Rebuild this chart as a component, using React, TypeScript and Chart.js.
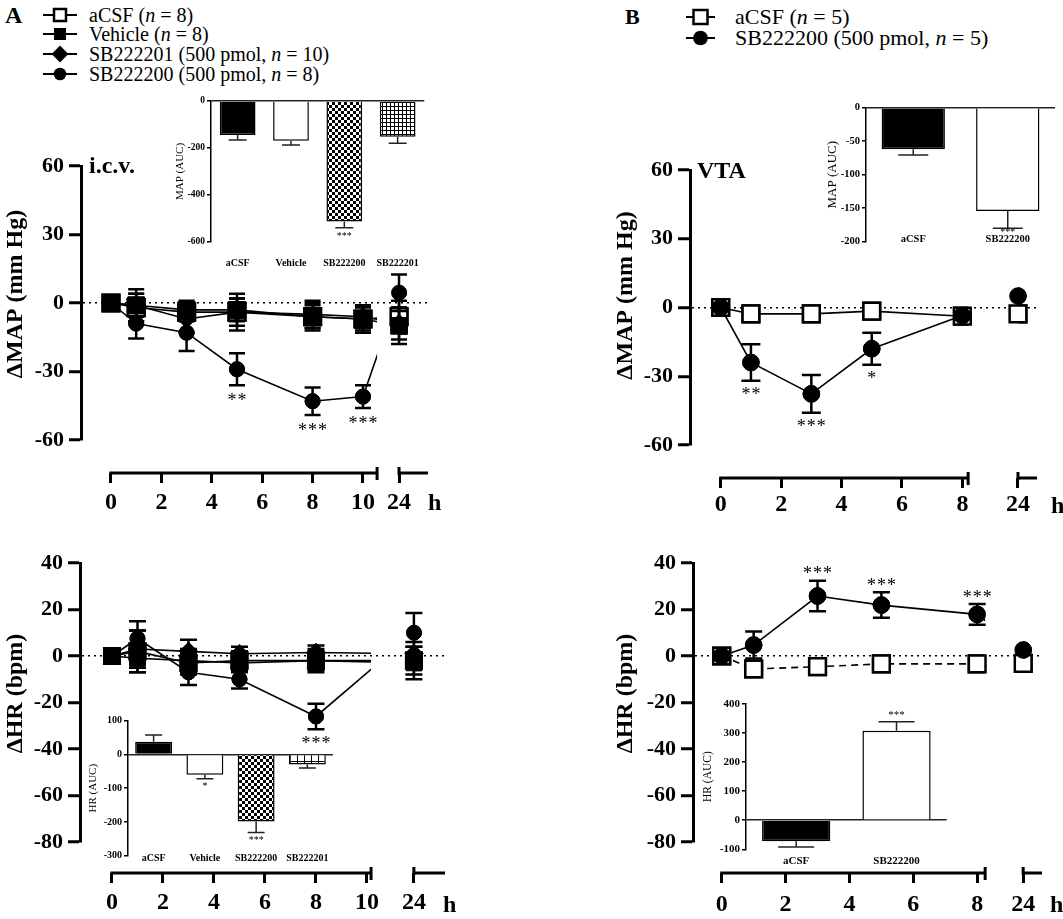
import React, { useEffect, useRef } from "react";
import { Chart, registerables } from "chart.js";

Chart.register(...registerables);

const SERIF = "'Liberation Serif', 'Times New Roman', Times, serif";

// ---------------- Panel A (i.c.v.) : ΔMAP time course ----------------
const A_MAP_HOURS = [0, 1, 3, 5, 8, 10, 24];
const A_MAP_XTICKS = [0, 2, 4, 6, 8, 10, 24];
const A_MAP_ACSF = [0, -2, -4, -4, -6, -7, -6];
const A_MAP_ACSF_SEM = [0, 6, 4, 8, 6, 6, 7];
const A_MAP_VEHICLE = [0, -1, -3, -3, -6, -7, -10];
const A_MAP_VEHICLE_SEM = [0, 7, 4, 5, 5, 5, 8];
const A_MAP_SB201 = [0, -1, -7, -4, -5, -6, -9];
const A_MAP_SB201_SEM = [0, 5, 6, 6, 6, 5, 7];
const A_MAP_SB200 = [0, -9, -13, -29, -43, -41, 4.5];
const A_MAP_SB200_SEM = [0, 6.5, 8, 7, 6, 5, 8];
const A_MAP_SB200_SIG = ["", "", "", "**", "***", "***", ""];

// ---------------- Panel A (i.c.v.) : ΔHR time course ----------------
const A_HR_HOURS = [0, 1, 3, 5, 8, 24];
const A_HR_XTICKS = [0, 2, 4, 6, 8, 10, 24];
const A_HR_ACSF = [0, 2, -3, -2, -2, -2];
const A_HR_ACSF_SEM = [0, 9, 5, 4, 5, 6];
const A_HR_VEHICLE = [0, -1, -2, -3, -2, -3];
const A_HR_VEHICLE_SEM = [0, 6, 5, 4, 4, 7];
const A_HR_SB201 = [0, 3, 2, 1, 1.5, 1];
const A_HR_SB201_SEM = [0, 8, 5, 3, 3, 5];
const A_HR_SB200 = [0, 7.5, -7, -10, -26, 10];
const A_HR_SB200_SEM = [0, 7.5, 5.5, 4, 5.5, 8.5];
const A_HR_SB200_SIG = ["", "", "", "", "***", ""];

// ---------------- Panel B (VTA) ----------------
const B_HOURS = [0, 1, 3, 5, 8, 24];
const B_XTICKS = [0, 2, 4, 6, 8, 24];
const B_MAP_ACSF = [0, -2.8, -2.8, -1.6, -3.8, -2.8];
const B_MAP_ACSF_SEM = [0, 0, 0, 0, 0, 0];
const B_MAP_SB200 = [0, -24, -37.7, -18, -3.5, 5];
const B_MAP_SB200_SEM = [0, 8, 8.2, 7, 0, 0];
const B_MAP_SB200_SIG = ["", "**", "***", "*", "", ""];
const B_HR_ACSF = [0, -5.6, -4.6, -3.4, -3.4, -3.2];
const B_HR_ACSF_SEM = [0, 0, 0, 0, 0, 0];
const B_HR_SB200 = [0, 4.7, 25.8, 21.9, 17.9, 2.6];
const B_HR_SB200_SEM = [0, 5.8, 6.6, 5.5, 4.5, 0];
const B_HR_SB200_SIG = ["", "", "***", "***", "***", ""];

// ---------------- Insets (AUC) ----------------
const A_AUC_GROUPS = ["aCSF", "Vehicle", "SB222200", "SB222201"];
const A_MAP_AUC = [-145, -169, -513, -152];
const A_MAP_AUC_SEM = [21, 18, 26, 28];
const A_MAP_AUC_SIG = ["", "", "***", ""];
const A_HR_AUC = [38, -60, -199, -30];
const A_HR_AUC_SEM = [20, 12, 32, 10];
const A_HR_AUC_SIG = ["", "*", "***", ""];
const B_AUC_GROUPS = ["aCSF", "SB222200"];
const B_MAP_AUC = [-62, -154];
const B_MAP_AUC_SEM = [8.6, 26];
const B_MAP_AUC_SIG = ["", "***"];
const B_HR_AUC = [-72, 308];
const B_HR_AUC_SEM = [20, 31];
const B_HR_AUC_SIG = ["", "***"];

// ---------------- Legends ----------------
const A_LEGEND = [
  { kind: "open", name: "aCSF", dose: "", n: 8 },
  { kind: "filled", name: "Vehicle", dose: "", n: 8 },
  { kind: "diamond", name: "SB222201", dose: "500 pmol, ", n: 10 },
  { kind: "circle", name: "SB222200", dose: "500 pmol, ", n: 8 },
];
const B_LEGEND = [
  { kind: "open", name: "aCSF", dose: "", n: 5 },
  { kind: "circle", name: "SB222200", dose: "500 pmol, ", n: 5 },
];

// ---------------- helpers ----------------
type BrokenAxis = {
  ticks: number[];
  min: number;
  breakAt: number;
  late: number;
  latePos: number;
  end: number;
  axisValue: number;
};

function axisPos(ax: BrokenAxis, h: number) {
  return h >= ax.late ? ax.latePos + (h - ax.late) : h;
}

function makeBrokenAxisPlugin(ax: BrokenAxis) {
  return {
    id: "brokenAxis",
    beforeDatasetDraw(chart: any) {
      const xs = chart.scales.x;
      const { ctx, width, height } = chart;
      const g0 = xs.getPixelForValue(ax.breakAt);
      const g1 = xs.getPixelForValue(ax.latePos);
      ctx.save();
      ctx.beginPath();
      ctx.rect(0, 0, g0, height);
      ctx.rect(g1, 0, width - g1, height);
      ctx.clip();
    },
    afterDatasetDraw(chart: any, args: any) {
      const ctx = chart.ctx;
      ctx.restore();
      // markers are drawn again without the gap clip, so none is cut
      args.meta.data.forEach((pt: any) => pt.draw(ctx, chart.chartArea));
    },
    afterDraw(chart: any) {
      const xs = chart.scales.x;
      const ys = chart.scales.y;
      const ctx = chart.ctx;
      const y = Math.round(ys.getPixelForValue(ax.axisValue));
      const x0 = xs.getPixelForValue(ax.ticks[0]);
      const xb = xs.getPixelForValue(ax.breakAt);
      const xl = xs.getPixelForValue(ax.latePos);
      const xe = xs.getPixelForValue(ax.end);
      ctx.save();
      ctx.strokeStyle = "#000";
      ctx.lineWidth = 3;
      ctx.lineCap = "butt";
      ctx.beginPath();
      ctx.moveTo(x0 - 1.5, y);
      ctx.lineTo(xb, y);
      ctx.moveTo(xb, y - 6);
      ctx.lineTo(xb, y + 7);
      ctx.moveTo(xl, y - 6);
      ctx.lineTo(xl, y + 2);
      ctx.moveTo(xl - 1.5, y);
      ctx.lineTo(xe, y);
      ctx.stroke();
      ctx.restore();
    },
  };
}

function makeErrorBarPlugin(o: any) {
  return {
    id: "errorBars",
    afterDatasetsDraw(chart: any) {
      const ctx = chart.ctx;
      const ys = chart.scales.y;
      chart.data.datasets.forEach((ds: any, di: number) => {
        if (!ds.errors) return;
        const meta = chart.getDatasetMeta(di);
        meta.data.forEach((el: any, i: number) => {
          const raw = ds.data[i];
          const v = typeof raw === "number" ? raw : raw.y;
          const e = ds.errors[i] || 0;
          const x = el.x;
          const outEnd = v + (v >= 0 ? e : -e);
          ctx.save();
          ctx.strokeStyle = o.color;
          ctx.lineWidth = o.lineWidth;
          ctx.lineCap = "butt";
          if (e > 0) {
            ctx.beginPath();
            if (o.outward) {
              const p0 = ys.getPixelForValue(v);
              const p1 = ys.getPixelForValue(outEnd);
              ctx.moveTo(x, p0);
              ctx.lineTo(x, p1);
              ctx.moveTo(x - o.cap, p1);
              ctx.lineTo(x + o.cap, p1);
            } else {
              const pHi = ys.getPixelForValue(v + e);
              const pLo = ys.getPixelForValue(v - e);
              ctx.moveTo(x, pHi);
              ctx.lineTo(x, pLo);
              ctx.moveTo(x - o.cap, pHi);
              ctx.lineTo(x + o.cap, pHi);
              ctx.moveTo(x - o.cap, pLo);
              ctx.lineTo(x + o.cap, pLo);
            }
            ctx.stroke();
          }
          const s = ds.sig && ds.sig[i];
          if (s) {
            const pe = ys.getPixelForValue(outEnd);
            const ty = v >= 0 ? pe - o.sigAbove : pe + o.sigBelow;
            ctx.fillStyle = o.sigColor || "#000";
            ctx.font = o.sigFont;
            ctx.textAlign = "center";
            ctx.textBaseline = "middle";
            try {
              (ctx as any).letterSpacing = o.letterSpacing || "0px";
            } catch (err) {}
            ctx.fillText(s, x + (o.letterSpacingPx || 0) / 2, ty);
          }
          ctx.restore();
        });
      });
    },
  };
}

type Series = {
  label: string;
  values: number[];
  sem: number[];
  sig?: string[];
  style: string;
  radius: number;
  fill: string;
  pointBorder: number;
  dash?: number[];
  order: number;
};

function mainChartConfig(p: any) {
  const ax: BrokenAxis = p.axis;
  return {
    type: "line",
    data: {
      datasets: p.series.map((s: Series) => ({
        label: s.label,
        data: p.hours.map((h: number, i: number) => ({ x: axisPos(ax, h), y: s.values[i] })),
        errors: s.sem,
        sig: s.sig,
        borderColor: "#000",
        borderWidth: 1.6,
        borderDash: s.dash || [],
        backgroundColor: s.fill,
        pointStyle: s.style,
        pointRadius: s.radius,
        pointHoverRadius: s.radius,
        pointBackgroundColor: s.fill,
        pointBorderColor: "#000",
        pointBorderWidth: s.pointBorder,
        fill: false,
        tension: 0,
        order: s.order,
      })),
    },
    options: {
      responsive: false,
      animation: false,
      devicePixelRatio: 1,
      events: [],
      layout: { padding: { left: 0, top: p.padTop, right: p.padRight, bottom: p.padBottom } },
      plugins: { legend: { display: false }, tooltip: { enabled: false } },
      scales: {
        x: {
          type: "linear",
          min: ax.min,
          max: ax.end,
          position: { y: ax.axisValue },
          afterBuildTicks: (sc: any) => {
            sc.ticks = ax.ticks.map((h) => ({ value: axisPos(ax, h) }));
          },
          ticks: {
            autoSkip: false,
            maxRotation: 0,
            padding: p.xLabelPad,
            color: "#000",
            font: { family: SERIF, size: 24, weight: "bold", lineHeight: 1.2 },
            callback: (_v: any, i: number) => String(ax.ticks[i]),
          },
          grid: {
            drawOnChartArea: false,
            drawTicks: true,
            tickLength: 10,
            tickWidth: 3,
            tickColor: "#000",
            color: "#000",
            lineWidth: 3,
          },
          border: { display: false },
        },
        y: {
          type: "linear",
          min: p.yMin,
          max: p.yMax,
          ticks: {
            stepSize: p.yStep,
            color: "#000",
            padding: 5,
            font: { family: SERIF, size: 22, weight: "bold", lineHeight: 1.2 },
          },
          grid: {
            color: (c: any) => (c.tick && c.tick.value === 0 ? "#000" : "rgba(0,0,0,0)"),
            lineWidth: 1.5,
            drawTicks: true,
            tickLength: 12,
            tickWidth: 3,
            tickColor: "#000",
            tickBorderDash: [],
          },
          border: { display: true, color: "#000", width: 3, dash: [2, 4] },
          title: {
            display: true,
            // leading spaces nudge the rotated title up, as in the original
            text: " ".repeat(p.titleNudge) + p.yTitle,
            color: "#000",
            font: { family: SERIF, size: 24, weight: "bold", lineHeight: 1 },
            padding: { top: 4, bottom: 0 },
          },
          afterFit: (sc: any) => {
            sc.width = p.yAxisWidth;
          },
        },
      },
    },
    plugins: [
      makeBrokenAxisPlugin(ax),
      makeErrorBarPlugin({
        color: "#000",
        lineWidth: 2.5,
        cap: p.cap,
        outward: false,
        sigFont: `18px ${SERIF}`,
        sigBelow: p.sigBelow,
        sigAbove: p.sigAbove,
        letterSpacing: "1px",
        letterSpacingPx: 1,
      }),
    ],
  };
}

function checkerPattern(ctx: CanvasRenderingContext2D, cell: number) {
  const c = document.createElement("canvas");
  c.width = c.height = cell * 2;
  const g = c.getContext("2d")!;
  g.fillStyle = "#fff";
  g.fillRect(0, 0, cell * 2, cell * 2);
  g.fillStyle = "#000";
  g.fillRect(0, 0, cell, cell);
  g.fillRect(cell, cell, cell, cell);
  return ctx.createPattern(c, "repeat");
}

function gridPattern(ctx: CanvasRenderingContext2D, cell: number) {
  const c = document.createElement("canvas");
  c.width = c.height = cell;
  const g = c.getContext("2d")!;
  g.fillStyle = "#fff";
  g.fillRect(0, 0, cell, cell);
  g.fillStyle = "#000";
  g.fillRect(0, 0, cell, 1);
  g.fillRect(0, 0, 1, cell);
  return ctx.createPattern(c, "repeat");
}

function insetConfig(p: any, fills: any[]) {
  return {
    type: "bar",
    data: {
      labels: p.groups,
      datasets: [
        {
          data: p.values,
          errors: p.sem,
          sig: p.sig,
          backgroundColor: fills,
          borderColor: "#000",
          borderWidth: 1.5,
          barPercentage: p.barPct,
          categoryPercentage: 1,
        },
      ],
    },
    options: {
      responsive: false,
      animation: false,
      devicePixelRatio: 1,
      events: [],
      layout: { padding: { left: 0, top: p.padTop, right: p.padRight, bottom: p.xAxisHeight } },
      plugins: { legend: { display: false }, tooltip: { enabled: false } },
      scales: {
        x: {
          type: "category",
          position: { y: p.yMin },
          grid: { display: false, drawTicks: false },
          border: { display: false },
          ticks: {
            color: "#000",
            padding: p.xLabelPad,
            autoSkip: false,
            maxRotation: 0,
            font: { family: SERIF, size: p.labelSize, weight: "bold", lineHeight: 1.2 },
          },
        },
        y: {
          type: "linear",
          min: p.yMin,
          max: p.yMax,
          ticks: {
            stepSize: p.yStep,
            color: "#000",
            padding: 2,
            font: { family: SERIF, size: p.tickSize, weight: "bold", lineHeight: 1.2 },
          },
          grid: {
            color: (c: any) => (c.tick && c.tick.value === 0 ? "#222" : "rgba(0,0,0,0)"),
            lineWidth: 1.5,
            drawTicks: true,
            tickLength: 4,
            tickWidth: 1.5,
            tickColor: "#000",
          },
          border: { display: true, color: "#000", width: 1.5 },
          title: {
            display: true,
            text: p.yTitle,
            color: "#000",
            font: { family: SERIF, size: p.titleSize, lineHeight: 1 },
            padding: { top: p.titleOffset - p.titleSize / 2, bottom: 0 },
          },
          afterFit: (sc: any) => {
            sc.width = p.yAxisWidth;
          },
        },
      },
    },
    plugins: [
      makeErrorBarPlugin({
        color: "#222",
        lineWidth: 1.5,
        cap: p.cap,
        outward: true,
        sigFont: `${p.sigSize}px ${SERIF}`,
        sigBelow: p.sigBelow,
        sigAbove: p.sigAbove,
        letterSpacing: "0px",
        letterSpacingPx: 0,
      }),
    ],
  };
}

// ---------------- panel descriptions ----------------
const A_MAP_PANEL = {
  hours: A_MAP_HOURS,
  axis: { ticks: A_MAP_XTICKS, min: -1.19, breakAt: 10.56, late: 24, latePos: 11.43, end: 12.58, axisValue: -74.45 },
  series: [
    { label: "aCSF", values: A_MAP_ACSF, sem: A_MAP_ACSF_SEM, style: "rect", radius: 11.8, fill: "#fff", pointBorder: 2.5, order: 3 },
    { label: "Vehicle", values: A_MAP_VEHICLE, sem: A_MAP_VEHICLE_SEM, style: "rect", radius: 11.8, fill: "#000", pointBorder: 1, order: 0 },
    { label: "SB222201", values: A_MAP_SB201, sem: A_MAP_SB201_SEM, style: "rectRot", radius: 9, fill: "#000", pointBorder: 1, order: 2 },
    { label: "SB222200", values: A_MAP_SB200, sem: A_MAP_SB200_SEM, sig: A_MAP_SB200_SIG, style: "circle", radius: 7.5, fill: "#000", pointBorder: 1, order: 1 },
  ],
  yMin: -60, yMax: 60, yStep: 30, yTitle: "ΔMAP (mm Hg)", titleNudge: 3,
  yAxisWidth: 81, padTop: 36, padRight: 17, padBottom: 90, xLabelPad: 5.6,
  cap: 8, sigBelow: 16.5, sigAbove: 6,
};

const A_HR_PANEL = {
  hours: A_HR_HOURS,
  axis: { ticks: A_HR_XTICKS, min: -1.255, breakAt: 10.16, late: 24, latePos: 11.84, end: 13.06, axisValue: -93.3 },
  series: [
    { label: "aCSF", values: A_HR_ACSF, sem: A_HR_ACSF_SEM, style: "rect", radius: 11, fill: "#fff", pointBorder: 2.5, order: 3 },
    { label: "Vehicle", values: A_HR_VEHICLE, sem: A_HR_VEHICLE_SEM, style: "rect", radius: 11, fill: "#000", pointBorder: 1, order: 0 },
    { label: "SB222201", values: A_HR_SB201, sem: A_HR_SB201_SEM, style: "rectRot", radius: 9, fill: "#000", pointBorder: 1, order: 2 },
    { label: "SB222200", values: A_HR_SB200, sem: A_HR_SB200_SEM, sig: A_HR_SB200_SIG, style: "circle", radius: 7.5, fill: "#000", pointBorder: 1, order: 1 },
  ],
  yMin: -80, yMax: 40, yStep: 20, yTitle: "ΔHR (bpm)", titleNudge: 3,
  yAxisWidth: 80, padTop: 33, padRight: 15, padBottom: 77, xLabelPad: 5.6,
  cap: 8.5, sigBelow: 15.5, sigAbove: 6,
};

const B_MAP_PANEL = {
  hours: B_HOURS,
  axis: { ticks: B_XTICKS, min: -1.017, breakAt: 8.19, late: 24, latePos: 9.84, end: 10.47, axisValue: -74.4 },
  series: [
    { label: "aCSF", values: B_MAP_ACSF, sem: B_MAP_ACSF_SEM, style: "rect", radius: 11.8, fill: "#fff", pointBorder: 2.5, order: 1 },
    { label: "SB222200", values: B_MAP_SB200, sem: B_MAP_SB200_SEM, sig: B_MAP_SB200_SIG, style: "circle", radius: 8.3, fill: "#000", pointBorder: 1, order: 0 },
  ],
  yMin: -60, yMax: 60, yStep: 30, yTitle: "ΔMAP (mm Hg)", titleNudge: 4,
  yAxisWidth: 80, padTop: 40, padRight: 26, padBottom: 85, xLabelPad: 2.6,
  cap: 9.5, sigBelow: 14.5, sigAbove: 6,
};

const B_HR_PANEL = {
  hours: B_HOURS,
  axis: { ticks: B_XTICKS, min: -0.9, breakAt: 8.25, late: 24, latePos: 9.44, end: 10.03, axisValue: -93.3 },
  series: [
    { label: "aCSF", values: B_HR_ACSF, sem: B_HR_ACSF_SEM, style: "rect", radius: 11.8, fill: "#fff", pointBorder: 2.5, dash: [7, 5], order: 1 },
    { label: "SB222200", values: B_HR_SB200, sem: B_HR_SB200_SEM, sig: B_HR_SB200_SIG, style: "circle", radius: 8.3, fill: "#000", pointBorder: 1, order: 0 },
  ],
  yMin: -80, yMax: 40, yStep: 20, yTitle: "ΔHR (bpm)", titleNudge: 3,
  yAxisWidth: 83, padTop: 33, padRight: 21, padBottom: 77, xLabelPad: 7.6,
  cap: 8.5, sigBelow: 15, sigAbove: 6,
};

const A_MAP_INSET = {
  groups: A_AUC_GROUPS, values: A_MAP_AUC, sem: A_MAP_AUC_SEM, sig: A_MAP_AUC_SIG,
  yMin: -600, yMax: 0, yStep: 200, yTitle: "MAP (AUC)",
  titleSize: 11, titleOffset: 10, tickSize: 9.5, labelSize: 10,
  yAxisWidth: 41, xAxisHeight: 33, padTop: 11, padRight: 10, xLabelPad: 15,
  barPct: 0.67, cap: 9, sigSize: 10, sigBelow: 8.7, sigAbove: 6,
};
const A_HR_INSET = {
  groups: A_AUC_GROUPS, values: A_HR_AUC, sem: A_HR_AUC_SEM, sig: A_HR_AUC_SIG,
  yMin: -300, yMax: 100, yStep: 100, yTitle: "HR (AUC)",
  titleSize: 11, titleOffset: 13, tickSize: 10, labelSize: 10,
  yAxisWidth: 48, xAxisHeight: 14.3, padTop: 15.7, padRight: 7, xLabelPad: -3.7,
  barPct: 0.72, cap: 8.5, sigSize: 10, sigBelow: 7.5, sigAbove: 6,
};
const B_MAP_INSET = {
  groups: B_AUC_GROUPS, values: B_MAP_AUC, sem: B_MAP_AUC_SEM, sig: B_MAP_AUC_SIG,
  yMin: -200, yMax: 0, yStep: 50, yTitle: "MAP (AUC)",
  titleSize: 13, titleOffset: 13, tickSize: 10.5, labelSize: 10.5,
  yAxisWidth: 46, xAxisHeight: 13.3, padTop: 12.7, padRight: 8, xLabelPad: -9,
  barPct: 0.67, cap: 15, sigSize: 10, sigBelow: 4.1, sigAbove: 6,
};
const B_HR_INSET = {
  groups: B_AUC_GROUPS, values: B_HR_AUC, sem: B_HR_AUC_SEM, sig: B_HR_AUC_SIG,
  yMin: -100, yMax: 400, yStep: 100, yTitle: "HR (AUC)",
  titleSize: 11.5, titleOffset: 13, tickSize: 11, labelSize: 11,
  yAxisWidth: 51, xAxisHeight: 25.7, padTop: 14, padRight: 13.3, xLabelPad: 4.8,
  barPct: 0.68, cap: 18, sigSize: 11, sigBelow: 6, sigAbove: 6.2,
};

// ---------------- components ----------------
function ChartCanvas(props: { left: number; top: number; width: number; height: number; make: (ctx: CanvasRenderingContext2D) => any }) {
  const ref = useRef<HTMLCanvasElement | null>(null);
  useEffect(() => {
    const canvas = ref.current!;
    const ctx = canvas.getContext("2d")!;
    const chart = new Chart(canvas, props.make(ctx));
    return () => chart.destroy();
  }, []);
  return (
    <canvas
      ref={ref}
      width={props.width}
      height={props.height}
      style={{ position: "absolute", left: props.left, top: props.top, width: props.width, height: props.height }}
    />
  );
}

function Marker({ kind, cx, cy, size }: { kind: string; cx: number; cy: number; size: number }) {
  const h = size / 2;
  if (kind === "open")
    return <rect x={cx - h} y={cy - h} width={size} height={size} fill="#fff" stroke="#000" strokeWidth={2.5} />;
  if (kind === "filled") return <rect x={cx - h} y={cy - h} width={size} height={size} fill="#000" />;
  if (kind === "diamond") {
    const d = h * 1.4;
    return <polygon points={`${cx},${cy - d} ${cx + d},${cy} ${cx},${cy + d} ${cx - d},${cy}`} fill="#000" />;
  }
  return <circle cx={cx} cy={cy} r={h * 1.05} fill="#000" />;
}

function LegendBlock(props: { items: any[]; rows: number[]; symLeft: number; symWidth: number; lineFrom: number; lineTo: number; size: number; textLeft: number; fontSize: number }) {
  return (
    <>
      {props.items.map((it, i) => {
        const cy = props.rows[i];
        const cx = (props.lineFrom + props.lineTo) / 2;
        return (
          <React.Fragment key={i}>
            <svg
              width={props.symWidth}
              height={24}
              style={{ position: "absolute", left: props.symLeft, top: cy - 12, overflow: "visible" }}
            >
              <line x1={props.lineFrom} x2={props.lineTo} y1={12} y2={12} stroke="#000" strokeWidth={2} />
              <Marker kind={it.kind} cx={cx} cy={12} size={props.size} />
            </svg>
            <div
              style={{
                position: "absolute",
                left: props.textLeft,
                top: cy - props.fontSize / 2,
                fontSize: props.fontSize,
                lineHeight: `${props.fontSize}px`,
                whiteSpace: "nowrap",
                fontFamily: SERIF,
              }}
            >
              {it.name} ({it.dose}
              <i>n</i> = {it.n})
            </div>
          </React.Fragment>
        );
      })}
    </>
  );
}

function Label({ text, left, top, size }: { text: string; left: number; top: number; size: number }) {
  return (
    <div
      style={{
        position: "absolute",
        left,
        top,
        fontSize: size,
        lineHeight: `${size}px`,
        fontWeight: "bold",
        fontFamily: SERIF,
        whiteSpace: "nowrap",
      }}
    >
      {text}
    </div>
  );
}

export default function App() {
  return (
    <div
      style={{
        position: "absolute",
        left: 0,
        top: 0,
        width: 1063,
        height: 919,
        overflow: "hidden",
        background: "#fff",
        color: "#000",
        fontFamily: SERIF,
      }}
    >
      <ChartCanvas left={0} top={130} width={445} height={400} make={() => mainChartConfig(A_MAP_PANEL)} />
      <ChartCanvas left={0} top={530} width={460} height={389} make={() => mainChartConfig(A_HR_PANEL)} />
      <ChartCanvas left={610} top={130} width={453} height={400} make={() => mainChartConfig(B_MAP_PANEL)} />
      <ChartCanvas left={610} top={530} width={453} height={389} make={() => mainChartConfig(B_HR_PANEL)} />

      <ChartCanvas
        left={170}
        top={90}
        width={265}
        height={185}
        make={(ctx) => insetConfig(A_MAP_INSET, ["#000", "#fff", checkerPattern(ctx, 3), gridPattern(ctx, 4)])}
      />
      <ChartCanvas
        left={80}
        top={705}
        width={260}
        height={165}
        make={(ctx) => insetConfig(A_HR_INSET, ["#000", "#fff", checkerPattern(ctx, 3), gridPattern(ctx, 7)])}
      />
      <ChartCanvas left={820} top={95} width={243} height={160} make={() => insetConfig(B_MAP_INSET, ["#000", "#fff"])} />
      <ChartCanvas left={695} top={690} width={265} height={185} make={() => insetConfig(B_HR_INSET, ["#000", "#fff"])} />

      <Label text="A" left={5} top={3} size={24} />
      <Label text="B" left={625} top={6} size={22} />
      <LegendBlock items={A_LEGEND} rows={[15, 34, 54, 74]} symLeft={40} symWidth={40} lineFrom={3} lineTo={37} size={12} textLeft={89} fontSize={20} />
      <LegendBlock items={B_LEGEND} rows={[17, 38]} symLeft={680} symWidth={42} lineFrom={6} lineTo={35} size={14} textLeft={735} fontSize={22} />

      <Label text="i.c.v." left={89} top={153} size={24} />
      <Label text="VTA" left={697} top={158} size={24} />
      <Label text="h" left={428} top={490} size={24} />
      <Label text="h" left={443} top={892} size={24} />
      <Label text="h" left={1051} top={493} size={24} />
      <Label text="h" left={1050} top={892} size={24} />
    </div>
  );
}
